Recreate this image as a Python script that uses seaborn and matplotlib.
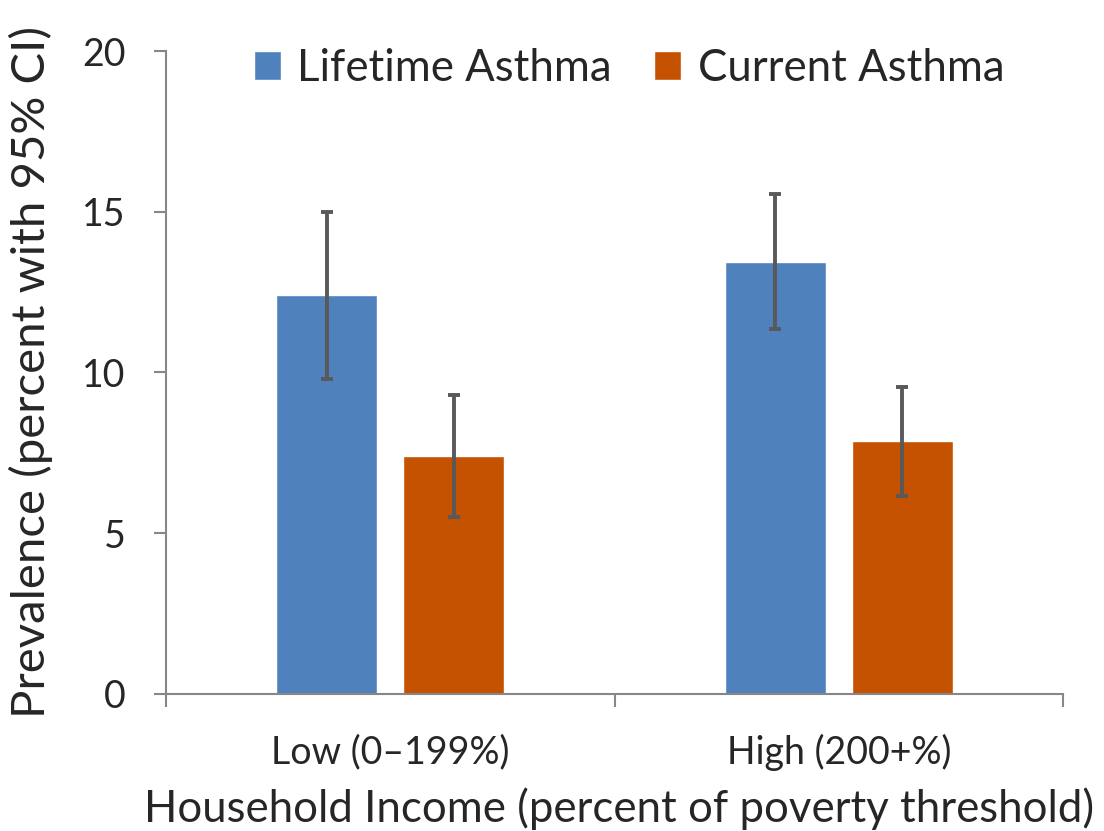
import seaborn as sns
import pandas as pd
import numpy as np
import matplotlib.pyplot as plt
from matplotlib.container import BarContainer

# data
income = ["Low (0\u2013199%)", "High (200+%)"]
asthma_types = ["Lifetime Asthma", "Current Asthma"]
lifetime = [12.4, 13.45]
lifetime_lo = [9.8, 11.35]
lifetime_hi = [15.0, 15.55]
current = [7.4, 7.85]
current_lo = [5.5, 6.15]
current_hi = [9.3, 9.55]

colors = ["#4F81BD", "#C55200"]
axis_grey = "#878787"

sns.set_theme(style="white")
plt.rcParams["font.family"] = ["Lato", "DejaVu Sans"]

df = pd.DataFrame({
    "income": income * 2,
    "type": [asthma_types[0]] * 2 + [asthma_types[1]] * 2,
    "value": lifetime + current,
})

fig = plt.figure(figsize=(11.04, 8.31), dpi=100)
ax = fig.add_axes([0.1504, 0.1652, 0.8125, 0.7734])

sns.barplot(data=df, x="income", y="value", hue="type", order=income,
            hue_order=asthma_types, palette=colors, saturation=1,
            width=0.567, gap=0.207, errorbar=None, ax=ax)

# 95% CI error bars on each bar
los = [lifetime_lo, current_lo]
his = [lifetime_hi, current_hi]
vals = [lifetime, current]
bar_conts = [c for c in ax.containers if isinstance(c, BarContainer)]
for i, cont in enumerate(bar_conts):
    xs = [b.get_x() + b.get_width() / 2 for b in cont]
    v = np.array(vals[i])
    yerr = [v - np.array(los[i]), np.array(his[i]) - v]
    ax.errorbar(xs, v, yerr=yerr, fmt="none", ecolor="#595959",
                elinewidth=2.8, capsize=4.3, capthick=2.8, zorder=5)

ax.set_ylim(0, 20)
ax.set_xlim(-0.5, 1.5)
ax.set_yticks([0, 5, 10, 15, 20])
ax.set_xticks([-0.5, 0.5, 1.5], minor=True)

for s in ["top", "right"]:
    ax.spines[s].set_visible(False)
for s in ["left", "bottom"]:
    ax.spines[s].set_color(axis_grey)
    ax.spines[s].set_linewidth(1.5)

ax.tick_params(axis="y", which="major", length=9, width=1.5, color=axis_grey,
               labelsize=27, pad=20, left=True)
ax.tick_params(axis="x", which="major", length=0, labelsize=27, pad=29)
ax.tick_params(axis="x", which="minor", length=9.5, width=1.5,
               color=axis_grey, bottom=True)

ax.set_xlabel("Household Income (percent of poverty threshold)", fontsize=31.5)
ax.xaxis.set_label_coords(0.505, -0.1455)
ax.set_ylabel("Prevalence (percent with 95% CI)", fontsize=34)
ax.yaxis.label.set_va("center")
ax.yaxis.set_label_coords(-0.1505, 0.5)

sns.move_legend(ax, "upper center", bbox_to_anchor=(0.516, 1.066), ncol=2,
                frameon=False, title=None, fontsize=31.5, handlelength=0.62,
                handleheight=0.62, handletextpad=0.37, columnspacing=0.98)

fig.savefig("out.png", dpi=100)
